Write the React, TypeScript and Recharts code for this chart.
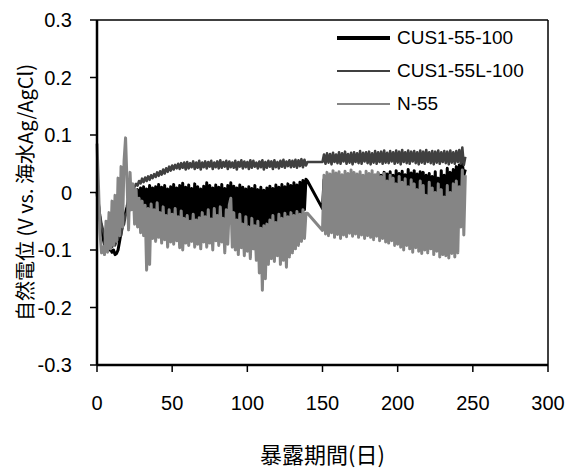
import {
  LineChart,
  Line,
  XAxis,
  YAxis,
  ReferenceLine,
  Label,
} from "recharts";

// potentials in mV, one reading per day from day 0 to 245 (null = no reading)
const firstDay = 0;
const stepDays = 1;

const cus100Mv: (number | null)[] = [
  0, -20, -45, -65, -80, -90, -95, -92, -100, -98,
  -104, -100, -108, -106, -100, -85, -70, -55, -45, -35,
  -25, -10, -30, -5, -28, 2, -30, 5, -32, 8,
  -33, 10, -30, 6, -34, 12, -36, 8, -38, 10,
  -40, 14, -38, 9, -42, 12, -44, 6, -45, 10,
  -47, 14, -45, 8, -48, 12, -46, 16, -44, 9,
  -48, 13, -50, 7, -46, 15, -49, 10, -52, 6,
  -47, 11, -50, 17, -48, 12, -51, 8, -53, 13,
  -49, 9, -52, 14, -55, 7, -50, 12, -54, 17,
  -51, 11, -55, 8, -57, 13, -53, 9, -58, 6,
  -56, 10, -59, 7, -61, 12, -57, 5, -60, 9,
  -62, 4, -58, 8, -60, 11, -55, 7, -57, 13,
  -52, 9, -54, 14, -50, 10, -48, 15, -46, 12,
  -44, 17, -40, 13, -38, 18, -35, 21, -30, 23,
  20, null, null, null, null, null, null, null, null, null,
  -28, 22, -40, 26, -45, 24, -42, 28, -46, 25,
  -44, 27, -47, 23, -43, 29, -45, 26, -48, 24,
  -44, 28, -46, 25, -42, 30, -47, 27, -45, 29,
  -43, 26, -48, 31, -44, 28, -46, 33, -20, 30,
  -45, 35, -10, 32, -47, 36, -25, 30, -44, 38,
  -15, 33, -48, 37, -30, 31, -46, 40, -20, 34,
  -50, 38, -28, 32, -45, 36, -12, 35, -48, 30,
  -26, 33, -52, 28, -30, 36, -50, 25, -35, 38,
  -54, 30, -40, 42, -48, 35, -30, 40, -52, 45,
  -20, 48, -35, 50, 30, 40,
];

const cus55LMv: (number | null)[] = [
  -5, -20, -40, -55, -65, -75, -85, -88, -92, -90,
  -95, -88, -92, -85, -80, -70, -75, -60, -55, -40,
  -35, -20, -10, -5, 5, 10, 15, 12, 20, 16,
  24, 18, 26, 20, 28, 22, 30, 25, 32, 27,
  35, 29, 37, 31, 40, 33, 42, 36, 45, 38,
  47, 40, 48, 42, 50, 41, 51, 43, 52, 40,
  53, 42, 51, 44, 54, 41, 52, 43, 55, 40,
  52, 44, 54, 42, 53, 45, 55, 41, 52, 44,
  54, 42, 56, 43, 53, 45, 55, 41, 54, 44,
  52, 43, 55, 40, 53, 45, 56, 42, 54, 44,
  53, 41, 56, 43, 55, 45, 52, 42, 54, 44,
  56, 40, 53, 43, 55, 45, 54, 41, 56, 44,
  53, 42, 55, 45, 57, 43, 54, 46, 56, 44,
  55, 45, 57, 43, 56, 46, 58, 44, 57, 47,
  53, null, null, null, null, null, null, null, null, null,
  53, 66, 50, 68, 52, 67, 49, 69, 53, 66,
  51, 70, 50, 68, 54, 71, 50, 67, 52, 69,
  49, 70, 53, 68, 51, 72, 50, 69, 54, 70,
  51, 71, 49, 68, 52, 72, 50, 70, 53, 71,
  50, 73, 52, 69, 51, 72, 54, 70, 50, 73,
  52, 71, 49, 74, 53, 70, 51, 73, 50, 71,
  54, 72, 51, 70, 49, 73, 52, 71, 50, 74,
  53, 70, 51, 72, 49, 71, 52, 73, 50, 70,
  53, 72, 51, 71, 49, 73, 52, 70, 50, 72,
  53, 74, 50, 78, 48, 62,
];

const n55Mv: (number | null)[] = [
  85, 10, -70, -105, -95, -108, -50, -104, -35, -98,
  -15, -92, -5, -85, 25, -75, 45, -60, 55, 95,
  15, -65, 35, -30, 15, -55, 5, -60, -10, -70,
  -15, -75, -22, -135, -28, -125, -20, -80, -30, -85,
  -18, -78, -35, -88, -25, -82, -40, -95, -30, -86,
  -38, -90, -28, -84, -42, -96, -32, -100, -45, -88,
  -40, -92, -50, -85, -38, -95, -48, -90, -44, -98,
  -35, -86, -42, -95, -30, -88, -46, -100, -28, -84,
  -40, -92, -25, -86, -45, -105, -30, -90, -22, -10,
  -95, -35, -100, -48, -108, -38, -96, -55, -110, -42,
  -102, -60, -115, -45, -98, -58, -118, -50, -140, -62,
  -170, -58, -150, -55, -125, -48, -115, -40, -120, -52,
  -110, -38, -125, -45, -118, -36, -130, -42, -112, -35,
  -105, -40, -98, -33, -92, -38, -85, -30, -80, -36,
  -36, null, null, null, null, null, null, null, null, null,
  -66, 30, -72, 35, -75, 32, -70, 38, -78, 34,
  -73, 36, -80, 31, -74, 37, -77, 33, -71, 39,
  -76, 35, -72, 32, -78, 36, -74, 30, -80, 37,
  -75, 33, -78, 38, -82, 31, -76, 35, -84, 28,
  -80, 33, -86, 20, -88, 30, -84, 25, -92, 15,
  -90, 28, -95, 18, -100, 24, -92, 10, -98, 22,
  -104, 15, -96, 5, -102, 20, -106, 12, -100, -5,
  -105, 18, -98, 8, -108, 0, -102, 15, -112, 5,
  -108, -8, -110, 12, -114, 0, -106, 15, -112, 20,
  -105, 10, -60, 39, -74, 30,
];

const xTicks = [0, 50, 100, 150, 200, 250, 300];
const yTicks = [-0.3, -0.2, -0.1, 0, 0.1, 0.2, 0.3];

const seriesNames = ["CUS1-55-100", "CUS1-55L-100", "N-55"];
const seriesColors = ["#000000", "#404040", "#858585"];

const toV = (mv: number | null | undefined) => (mv == null ? null : mv / 1000);

const data = cus100Mv.map((v, i) => ({
  day: firstDay + i * stepDays,
  a: toV(v),
  b: toV(cus55LMv[i]),
  c: toV(n55Mv[i]),
}));

const tickFont = { fill: "#000", fontSize: 20, fontFamily: "Liberation Sans" };

function LegendBox() {
  return (
    <div
      style={{
        position: "absolute",
        left: 337,
        top: 21,
        fontFamily: "Liberation Sans",
        fontSize: 19,
        color: "#000",
        lineHeight: 1,
      }}
    >
      {seriesNames.map((name, i) => (
        <div key={name} style={{ display: "flex", alignItems: "center", height: 33 }}>
          <div
            style={{
              width: 53,
              height: i === 0 ? 4 : 2,
              background: seriesColors[i],
              marginRight: 7,
            }}
          />
          <span>{name}</span>
        </div>
      ))}
    </div>
  );
}

export default function App() {
  return (
    <div style={{ position: "absolute", left: 0, top: 0, width: 577, height: 468, background: "#fff" }}>
      <LineChart
        width={577}
        height={468}
        data={data}
        margin={{ top: 20, right: 29, left: 0, bottom: 63 }}
      >
        <XAxis
          type="number"
          dataKey="day"
          domain={[0, 300]}
          ticks={xTicks}
          interval={0}
          height={40}
          tick={tickFont}
          tickSize={7}
          tickMargin={24}
          axisLine={{ stroke: "#000", strokeWidth: 2.5 }}
          tickLine={{ stroke: "#000", strokeWidth: 1.5 }}
        >
          <Label
            content={({ viewBox }: any) => (
              <text
                x={viewBox.x + viewBox.width / 2}
                y={453}
                textAnchor="middle"
                dominantBaseline="central"
                fontSize={22}
                fontFamily="Noto Sans CJK JP"
                fill="#000"
              >
                暴露期間(日)
              </text>
            )}
          />
        </XAxis>
        <YAxis
          type="number"
          domain={[-0.3, 0.3]}
          ticks={yTicks}
          interval={0}
          width={97}
          tick={tickFont}
          tickSize={7}
          tickMargin={18}
          tickFormatter={(v: number) => String(Number(v.toFixed(1)))}
          axisLine={{ stroke: "#000", strokeWidth: 2.5 }}
          tickLine={{ stroke: "#000", strokeWidth: 1.5 }}
        >
          <Label
            content={({ viewBox }: any) => {
              const cy = viewBox.y + viewBox.height / 2;
              return (
                <text
                  x={24}
                  y={cy}
                  transform={`rotate(-90, 24, ${cy})`}
                  textAnchor="middle"
                  dominantBaseline="central"
                  fontSize={20}
                  fontFamily="Noto Sans CJK JP"
                  fill="#000"
                >
                  自然電位 (V vs. 海水Ag/AgCl)
                </text>
              );
            }}
          />
        </YAxis>
        <ReferenceLine y={0.3} stroke="#000" strokeWidth={1.5} />
        <ReferenceLine x={300} stroke="#000" strokeWidth={1.5} />
        <Line
          dataKey="a"
          name={seriesNames[0]}
          stroke={seriesColors[0]}
          strokeWidth={3}
          strokeLinejoin="round"
          dot={false}
          connectNulls
          isAnimationActive={false}
        />
        <Line
          dataKey="b"
          name={seriesNames[1]}
          stroke={seriesColors[1]}
          strokeWidth={2.6}
          strokeLinejoin="round"
          dot={false}
          connectNulls
          isAnimationActive={false}
        />
        <Line
          dataKey="c"
          name={seriesNames[2]}
          stroke={seriesColors[2]}
          strokeWidth={3}
          strokeLinejoin="round"
          dot={false}
          connectNulls
          isAnimationActive={false}
        />
      </LineChart>
      <LegendBox />
    </div>
  );
}
